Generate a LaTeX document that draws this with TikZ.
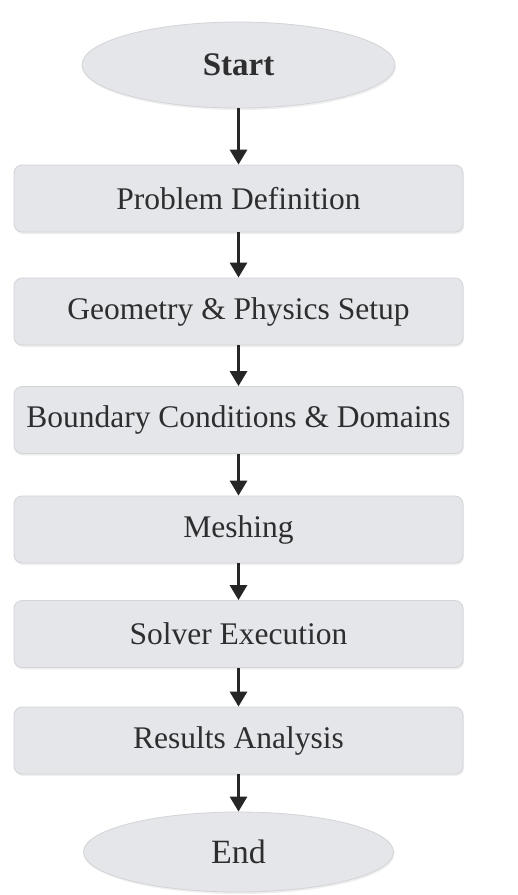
\documentclass[tikz,border=0pt]{standalone}
\usepackage{fontspec}
\setmainfont{Liberation Serif}
\usetikzlibrary{arrows.meta,shapes.geometric,shadows}
\definecolor{boxfill}{HTML}{E5E6E9}
\definecolor{boxline}{HTML}{D3D4D8}
\definecolor{txt}{HTML}{2E2E30}
\tikzset{
  stepbox/.style={draw=boxline, line width=0.8pt, fill=boxfill, rounded corners=8pt,
    minimum width=449pt, minimum height=67pt, inner sep=0pt, text=txt,
    font=\fontsize{31.5}{34}\selectfont,
    drop shadow={opacity=0.12, shadow xshift=1pt, shadow yshift=-2pt}},
  termnode/.style={ellipse, draw=boxline, line width=0.8pt, fill=boxfill,
    inner sep=0pt, text=txt, font=\fontsize{33}{36}\selectfont\bfseries,
    drop shadow={opacity=0.12, shadow xshift=1pt, shadow yshift=-2pt}},
  flow/.style={line width=2.8pt, draw=black!85, -{Triangle[length=15pt,width=17pt]}, shorten >=0pt}
}
\begin{document}
\begin{tikzpicture}[x=1pt,y=-1pt]
\fill[white] (0,0) rectangle (518,895);
\useasboundingbox (0,0) rectangle (518,895);
\node[termnode, minimum width=313pt, minimum height=86pt] (start) at (238.5,65) {Start};
\node[stepbox] (pd) at (238.5,198.5) {Problem Definition};
\node[stepbox] (geo) at (238.5,311.5) {Geometry \& Physics Setup};
\node[stepbox] (bc) at (238.5,420) {Boundary Conditions \& Domains};
\node[stepbox] (mesh) at (238.5,529.5) {Meshing};
\node[stepbox] (solver) at (238.5,634) {Solver Execution};
\node[stepbox] (res) at (238.5,740.5) {Results Analysis};
\node[termnode, font=\fontsize{34}{38}\selectfont, minimum width=310pt, minimum height=80pt] (end) at (238.5,852) {End};
\draw[flow] (start) -- (pd);
\draw[flow] (pd) -- (geo);
\draw[flow] (geo) -- (bc);
\draw[flow] (bc) -- (mesh);
\draw[flow] (mesh) -- (solver);
\draw[flow] (solver) -- (res);
\draw[flow] (res) -- (end);
\end{tikzpicture}
\end{document}
